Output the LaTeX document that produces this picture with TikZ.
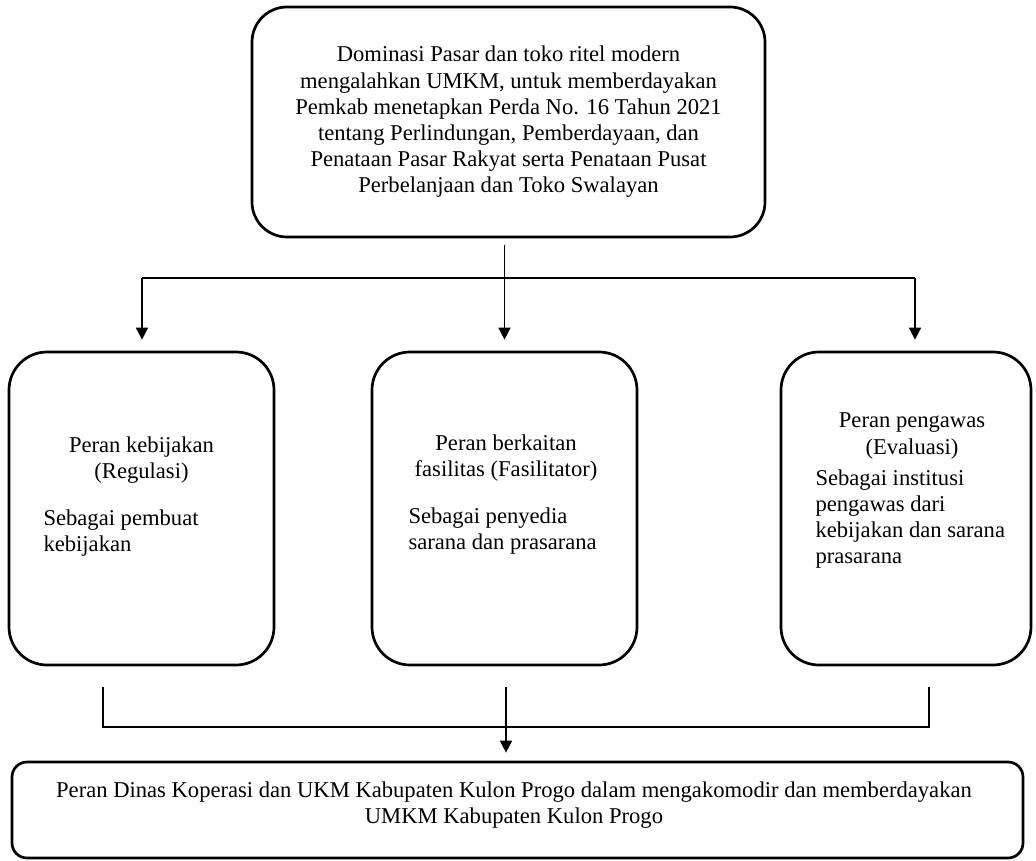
\documentclass[tikz,border=0pt]{standalone}
\usepackage{fontspec}
\setmainfont{Liberation Serif}
\usetikzlibrary{arrows.meta, positioning}

\begin{document}
\begin{tikzpicture}[x=1pt, y=-1pt,
  font=\fontsize{22.6}{26.2}\selectfont,
  >={Triangle[length=12pt,width=12pt]},
  box/.style={draw, line width=2.7pt, rounded corners=38pt, inner sep=0pt},
  conn/.style={draw, line width=1.5pt}]
  \useasboundingbox (0,0) rectangle (1036,861);

  \node[box, rounded corners=35pt, minimum width=513pt, minimum height=230pt, align=center] (top) at (508.5,122)
    {Dominasi Pasar dan toko ritel modern\\
     mengalahkan UMKM, untuk memberdayakan\\
     Pemkab menetapkan Perda No. 16 Tahun 2021\\
     tentang Perlindungan, Pemberdayaan, dan\\
     Penataan Pasar Rakyat serta Penataan Pusat\\
     Perbelanjaan dan Toko Swalayan};

  \node[box, minimum width=265pt, minimum height=313pt] (reg) at (141.5,508.5) {};
  \node[box, minimum width=265pt, minimum height=313pt] (fas) at (504.5,508.5) {};
  \node[box, minimum width=250pt, minimum height=313pt] (eva) at (906,508.5) {};

  \node[align=center] (reg-h) at (141.5,460) {Peran kebijakan\\(Regulasi)};
  \node[align=left, anchor=west] (reg-t) at (40,533) {Sebagai pembuat\\kebijakan};
  \node[align=center] (fas-h) at (506,458) {Peran berkaitan\\fasilitas (Fasilitator)};
  \node[align=left, anchor=west] (fas-t) at (405,531) {Sebagai penyedia\\sarana dan prasarana};
  \node[align=center] (eva-h) at (912,436) {Peran pengawas\\(Evaluasi)};
  \node[align=left, anchor=west] (eva-t) at (812,519)
    {Sebagai institusi\\pengawas dari\\kebijakan dan sarana\\prasarana};

  \node[box, rounded corners=15pt, minimum width=1011pt, minimum height=96pt] (dinas) at (517.5,810) {};
  \node[align=center] (dinas-t) at (514,805)
    {Peran Dinas Koperasi dan UKM Kabupaten Kulon Progo dalam mengakomodir dan memberdayakan\\
     UMKM Kabupaten Kulon Progo};

  % branches from the top box
  \coordinate (bl) at (142,278);
  \coordinate (br) at (915,278);
  \path[conn] (bl) -- (br);
  \path[conn, ->, shorten >=11pt] (bl) -- (bl |- reg.north);
  \path[conn, ->, shorten >=11pt] (br) -- (br |- eva.north);
  \path[conn, ->, shorten <=7pt, shorten >=11pt] (top.south -| fas.north) -- (fas.north);

  % joining into the bottom box
  \coordinate (ql) at (103,687);
  \coordinate (qr) at (929,687);
  \coordinate (qm) at (506,687);
  \path[conn] (ql) -- ++(0,40) -| (qr);
  \path[conn, ->, shorten >=8pt] (qm) -- (qm |- dinas.north);
\end{tikzpicture}
\end{document}
